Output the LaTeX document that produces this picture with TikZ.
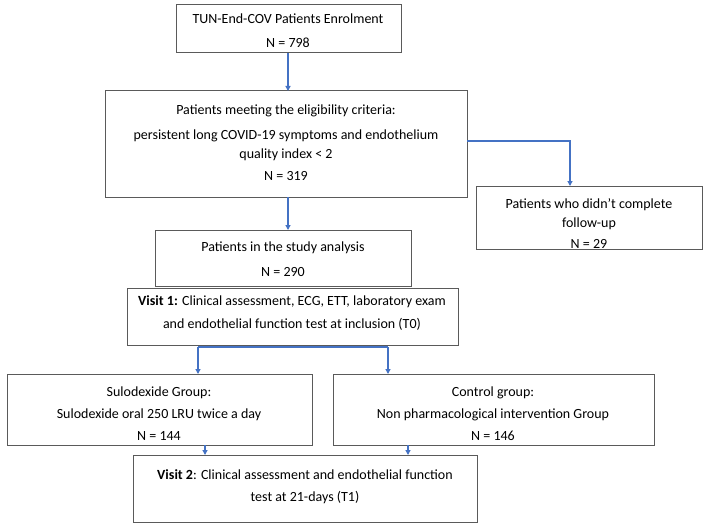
\documentclass[tikz,border=0pt]{standalone}
\usepackage{fontspec}
\setmainfont{Carlito}
\usetikzlibrary{arrows.meta}
\definecolor{flowblue}{RGB}{68,114,196}
\definecolor{boxgray}{RGB}{90,90,90}
\tikzset{
  box/.style={draw=boxgray, line width=1pt, fill=white},
  txt/.style={anchor=base, inner sep=0pt, font=\fontsize{14}{16}\selectfont, text=black},
  link/.style={draw=flowblue, line width=1.6pt, -{Triangle[length=5pt,width=5pt]}},
  plain/.style={draw=flowblue, line width=1.6pt}
}
\begin{document}
\begin{tikzpicture}[x=1pt,y=-1pt]
\useasboundingbox (0,0) rectangle (708,524);
% boxes
\path[box] (176,5) rectangle (401,53);
\coordinate (b1s) at (288,53);
\path[box] (105,91) rectangle (467,197);
\coordinate (b2n) at (288,91);
\coordinate (b2s) at (288,197);
\coordinate (b2e) at (467,141);
\path[box] (476,186) rectangle (702,249);
\coordinate (b3n) at (570,186);
\path[box] (155,230) rectangle (411,286);
\coordinate (b4n) at (288,230);
\path[box] (127,288) rectangle (458,345);
\coordinate (b5sl) at (198,347);
\coordinate (b5sr) at (388,347);
\path[box] (7,374) rectangle (312,445);
\coordinate (b6n) at (198,374);
\coordinate (b6s) at (205,445);
\path[box] (333,374) rectangle (654,445);
\coordinate (b7n) at (388,374);
\coordinate (b7s) at (408,445);
\path[box] (133,455) rectangle (477,522);
\coordinate (b8nl) at (205,455);
\coordinate (b8nr) at (408,455);
% texts
\node[txt] (t1a) at (288,24) {TUN-End-COV Patients Enrolment};
\node[txt] (t1b) at (288,48) {N = 798};
\node[txt] (t2a) at (286,114) {Patients meeting the eligibility criteria:};
\node[txt] (t2b) at (286,139) {persistent long COVID-19 symptoms and endothelium};
\node[txt] (t2c) at (286,158) {quality index < 2};
\node[txt] (t2d) at (286,180) {N = 319};
\node[txt] (t3a) at (589,208) {Patients who didn’t complete};
\node[txt] (t3b) at (589,227) {follow-up};
\node[txt] (t3c) at (589,248) {N = 29};
\node[txt] (t4a) at (283,251) {Patients in the study analysis};
\node[txt] (t4b) at (283,276) {N = 290};
\node[txt] (t5a) at (292,305) {\textbf{Visit 1:} Clinical assessment, ECG, ETT, laboratory exam};
\node[txt] (t5b) at (292,328) {and endothelial function test at inclusion (T0)};
\node[txt] (t6a) at (159,396) {Sulodexide Group:};
\node[txt] (t6b) at (159,418) {Sulodexide oral 250 LRU twice a day};
\node[txt] (t6c) at (159,440) {N = 144};
\node[txt] (t7a) at (493,396) {Control group:};
\node[txt] (t7b) at (493,418) {Non pharmacological intervention Group};
\node[txt] (t7c) at (493,440) {N = 146};
\node[txt] (t8a) at (305,479) {\textbf{Visit 2}: Clinical assessment and endothelial function};
\node[txt] (t8b) at (305,501) {test at 21-days (T1)};
% connectors
\draw[link] (b1s) -- (b2n);
\draw[link] (b2s) -- (b4n);
\draw[link] (b2e) -| (b3n);
\draw[plain] (b5sl) -- (b5sr);
\draw[link] (b5sl) -- (b6n);
\draw[link] (b5sr) -- (b7n);
\draw[link] (b6s) -- (b8nl);
\draw[link] (b7s) -- (b8nr);
\end{tikzpicture}
\end{document}
